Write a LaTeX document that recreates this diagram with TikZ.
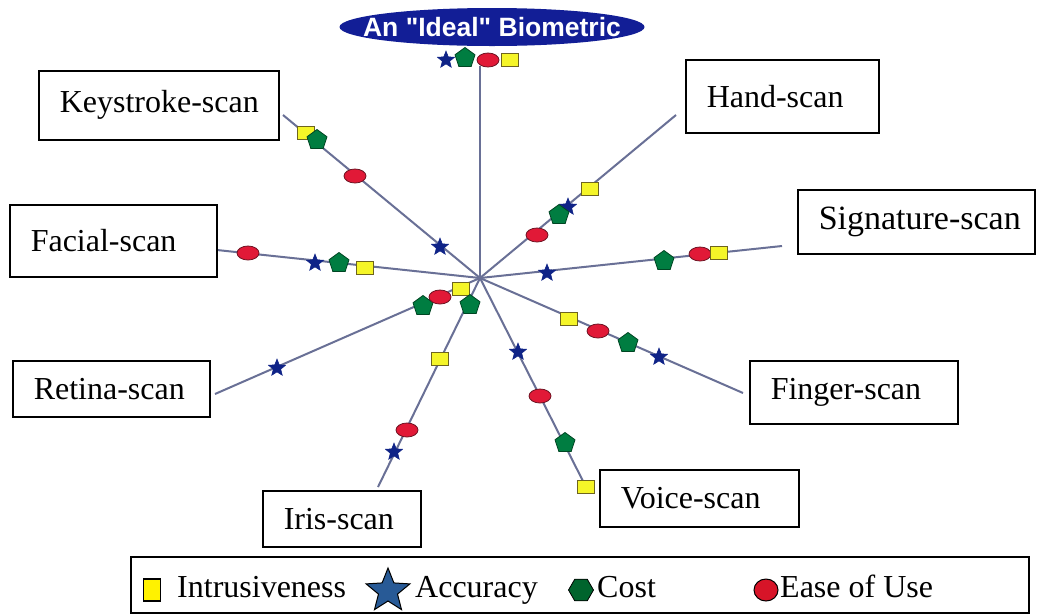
\documentclass[tikz,border=0pt]{standalone}
\usepackage{fontspec}
\setmainfont{Liberation Serif}
\newfontfamily\titlefont{Liberation Sans}
\usetikzlibrary{shapes.geometric}
\definecolor{armc}{RGB}{105,112,150}
\definecolor{titleblue}{RGB}{18,30,150}
\definecolor{mkyellow}{RGB}{245,245,40}
\definecolor{mkyedge}{RGB}{110,100,30}
\definecolor{mknavy}{RGB}{15,35,135}
\definecolor{mkgreen}{RGB}{0,125,65}
\definecolor{mkgedge}{RGB}{0,70,35}
\definecolor{mkred}{RGB}{225,25,55}
\definecolor{mkredge}{RGB}{110,20,35}
\definecolor{legblue}{RGB}{40,90,150}
\definecolor{leggreen}{RGB}{0,100,45}
\definecolor{legred}{RGB}{215,20,40}
\newcommand{\lblfont}{\fontsize{32}{36}\selectfont}
\tikzset{
  arm/.style={draw=armc, line width=2pt},
  lbox/.style={draw=black, line width=1.5pt, anchor=north west, inner xsep=21pt, inner ysep=0pt, align=left, font=\lblfont},
  mi/.style={rectangle, draw=mkyedge, line width=1pt, fill=mkyellow, minimum width=17pt, minimum height=13pt, inner sep=0pt},
  ma/.style={star, star points=5, star point ratio=2.3, fill=mknavy, draw=mknavy, line width=0.5pt, minimum size=18pt, inner sep=0pt},
  mc/.style={regular polygon, regular polygon sides=5, fill=mkgreen, draw=mkgedge, line width=0.8pt, minimum size=21pt, inner sep=0pt},
  me/.style={ellipse, fill=mkred, draw=mkredge, line width=0.8pt, minimum width=22pt, minimum height=14pt, inner sep=0pt},
  legtext/.style={anchor=base west, inner sep=0pt, font=\lblfont}
}
\begin{document}
\begin{tikzpicture}[x=1pt,y=-1pt]
\useasboundingbox (0,0) rectangle (1046,614);
\fill[white] (0,0) rectangle (1046,614);

% centre and arm ends
\coordinate (c) at (480,278);
\coordinate (etop) at (480,66);
\coordinate (ekey) at (283,115);
\coordinate (efac) at (217,250);
\coordinate (ehand) at (676,115);
\coordinate (esig) at (782,246);
\coordinate (eret) at (215,394);
\coordinate (eiris) at (378,487);
\coordinate (efing) at (743,393);
\coordinate (evoice) at (586,487);

\draw[arm] (c) -- (etop);
\draw[arm] (c) -- (ekey);
\draw[arm] (c) -- (efac);
\draw[arm] (c) -- (ehand);
\draw[arm] (c) -- (esig);
\draw[arm] (c) -- (eret);
\draw[arm] (c) -- (eiris);
\draw[arm] (c) -- (efing);
\draw[arm] (c) -- (evoice);

% title
\node[ellipse, fill=titleblue, minimum width=305pt, minimum height=38pt, inner sep=0pt,
      label={[text=white, inner sep=0pt, font=\titlefont\bfseries\fontsize{26.5}{27}\selectfont]center:An "Ideal" Biometric}] (title) at (492,27) {};

% ideal markers
\node[ma] (ta) at (446,60) {};
\node[mc] (tc) at (465,58) {};
\node[me] (te) at (488,60) {};
\node[mi] (ti) at (510,60) {};

% keystroke
\node[mi] (ki) at (306,133) {};
\node[mc] (kc) at (317,140) {};
\node[me] (ke) at (355,176) {};
\node[ma] (ka) at (440,247) {};
% facial
\node[me] (fe) at (248,253) {};
\node[ma] (fa) at (315,263) {};
\node[mc] (fc) at (339,263) {};
\node[mi] (fi) at (365,268) {};
% hand
\node[me] (he) at (537,235) {};
\node[ma] (ha) at (568,207) {};
\node[mc] (hc) at (559,215) {};
\node[mi] (hi) at (590,189) {};
% signature
\node[ma] (sa) at (547,273) {};
\node[mc] (sc) at (664,261) {};
\node[me] (se) at (700,254) {};
\node[mi] (si) at (719,253) {};
% retina
\node[ma] (ra) at (277,368) {};
\node[mc] (rc) at (423,306) {};
\node[me] (re) at (440,297) {};
\node[mi] (ri) at (461,289) {};
% iris
\node[mc] (ic) at (470,305) {};
\node[mi] (ii) at (440,359) {};
\node[me] (ie) at (407,430) {};
\node[ma] (ia) at (394,452) {};
% finger
\node[mi] (gi) at (569,319) {};
\node[me] (ge) at (598,331) {};
\node[mc] (gc) at (628,343) {};
\node[ma] (ga) at (659,357) {};
% voice
\node[ma] (va) at (518,352) {};
\node[me] (ve) at (540,396) {};
\node[mc] (vc) at (565,443) {};
\node[mi] (vi) at (586,487) {};

% label boxes
\node[lbox, text width=198pt, minimum height=69pt] (kbox) at (38,70) {\mbox{Keystroke-scan}};
\node[lbox, text width=165pt, minimum height=72pt] (fbox) at (9,204) {\mbox{Facial-scan}};
\node[lbox, text width=151pt, minimum height=73pt] (hbox) at (685,59) {\mbox{Hand-scan}};
\node[lbox, text width=195pt, minimum height=64pt, font=\fontsize{34}{38}\selectfont] (sbox) at (797,189) {\mbox{Signature-scan}};
\node[lbox, text width=155pt, minimum height=56pt] (rbox) at (12,360) {\mbox{Retina-scan}};
\node[lbox, text width=116pt, minimum height=56pt] (ibox) at (262,490) {\mbox{Iris-scan}};
\node[lbox, text width=166pt, minimum height=63pt] (gbox) at (749,360) {\mbox{Finger-scan}};
\node[lbox, text width=157pt, minimum height=57pt] (vbox) at (599,469) {\mbox{Voice-scan}};

% legend
\node[draw=black, line width=1.5pt, anchor=north west, minimum width=898pt, minimum height=56pt, inner sep=0pt] (legend) at (130,556) {};
\node[rectangle, draw=black, line width=1.2pt, fill=yellow, minimum width=17pt, minimum height=22pt, inner sep=0pt] (lgi) at (152,590) {};
\node[legtext] (lgit) at (177,597) {Intrusiveness};
\node[star, star points=5, star point ratio=2.3, fill=legblue, draw=black, line width=1pt, minimum size=46pt, inner sep=0pt] (lga) at (388,591) {};
\node[legtext] (lgat) at (415,597) {Accuracy};
\node[regular polygon, regular polygon sides=6, fill=leggreen, draw=black, line width=0.8pt, minimum size=25pt, inner sep=0pt] (lgc) at (581,590) {};
\node[legtext] (lgct) at (597,597) {Cost};
\node[ellipse, fill=legred, draw=black, line width=1pt, minimum width=24pt, minimum height=22pt, inner sep=0pt] (lge) at (766,590) {};
\node[legtext] (lget) at (780,597) {Ease of Use};
\end{tikzpicture}
\end{document}
